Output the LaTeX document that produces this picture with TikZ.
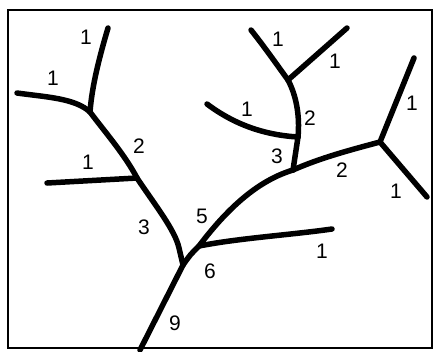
\documentclass[tikz,border=0pt]{standalone}
\usepackage{fontspec}
\setmainfont{Liberation Sans}
\begin{document}
\begin{tikzpicture}[x=1pt,y=-1pt,
  stream/.style={line width=5.5pt,line cap=round,line join=round},
  lbl/.style={inner sep=0pt,font=\fontsize{21}{25}\selectfont}]
\useasboundingbox (0,0) rectangle (435,351);
\fill[white] (0,0) rectangle (435,351);
\draw[line width=2pt] (8,10) rectangle (432,348);
% junctions and ends
\coordinate (a) at (90,112);
\coordinate (b) at (137,178);
\coordinate (c) at (183,265);
\coordinate (h) at (199,246);
\coordinate (d) at (293,170);
\coordinate (e) at (380,142);
\coordinate (f) at (298,137);
\coordinate (g) at (288,80);
\coordinate (t1) at (108,28);
\coordinate (t2) at (17,93);
\coordinate (t3) at (47,183);
\coordinate (t4) at (140,350);
\coordinate (t5) at (332,229);
\coordinate (t6) at (207,104);
\coordinate (t7) at (251,30);
\coordinate (t8) at (347,28);
\coordinate (t9) at (414,58);
\coordinate (t10) at (427,197);
% streams
\draw[stream] (t1) .. controls (100,55) and (92,85) .. (a);
\draw[stream] (t2) .. controls (45,97) and (75,98) .. (a);
\draw[stream] (a) .. controls (105,132) and (125,155) .. (b);
\draw[stream] (t3) -- (b);
\draw[stream] (b) .. controls (155,205) and (175,230) .. (179,248) -- (c);
\draw[stream] (t4) -- (c);
\draw[stream] (c) .. controls (190,255) .. (h) .. controls (230,205) and (260,180) .. (d);
\draw[stream] (h) .. controls (240,238) and (290,235) .. (t5);
\draw[stream] (d) .. controls (320,158) and (350,150) .. (e);
\draw[stream] (d) -- (f);
\draw[stream] (t6) .. controls (235,125) and (265,135) .. (f);
\draw[stream] (f) .. controls (300,115) and (296,95) .. (g);
\draw[stream] (g) .. controls (275,62) and (263,45) .. (t7);
\draw[stream] (g) -- (t8);
\draw[stream] (e) -- (t9);
\draw[stream] (e) -- (t10);
% labels
\node[lbl] (l1) at (86,37) {1};
\node[lbl] (l2) at (53,78) {1};
\node[lbl] (l3) at (139,146) {2};
\node[lbl] (l4) at (88,162) {1};
\node[lbl] (l5) at (144,227) {3};
\node[lbl] (l6) at (202,216) {5};
\node[lbl] (l7) at (210,271) {6};
\node[lbl] (l8) at (175,323) {9};
\node[lbl] (l9) at (322,251) {1};
\node[lbl] (l10) at (278,39) {1};
\node[lbl] (l11) at (335,61) {1};
\node[lbl] (l12) at (247,109) {1};
\node[lbl] (l13) at (310,118) {2};
\node[lbl] (l14) at (277,156) {3};
\node[lbl] (l15) at (342,170) {2};
\node[lbl] (l16) at (412,103) {1};
\node[lbl] (l17) at (396,191) {1};
\end{tikzpicture}
\end{document}
